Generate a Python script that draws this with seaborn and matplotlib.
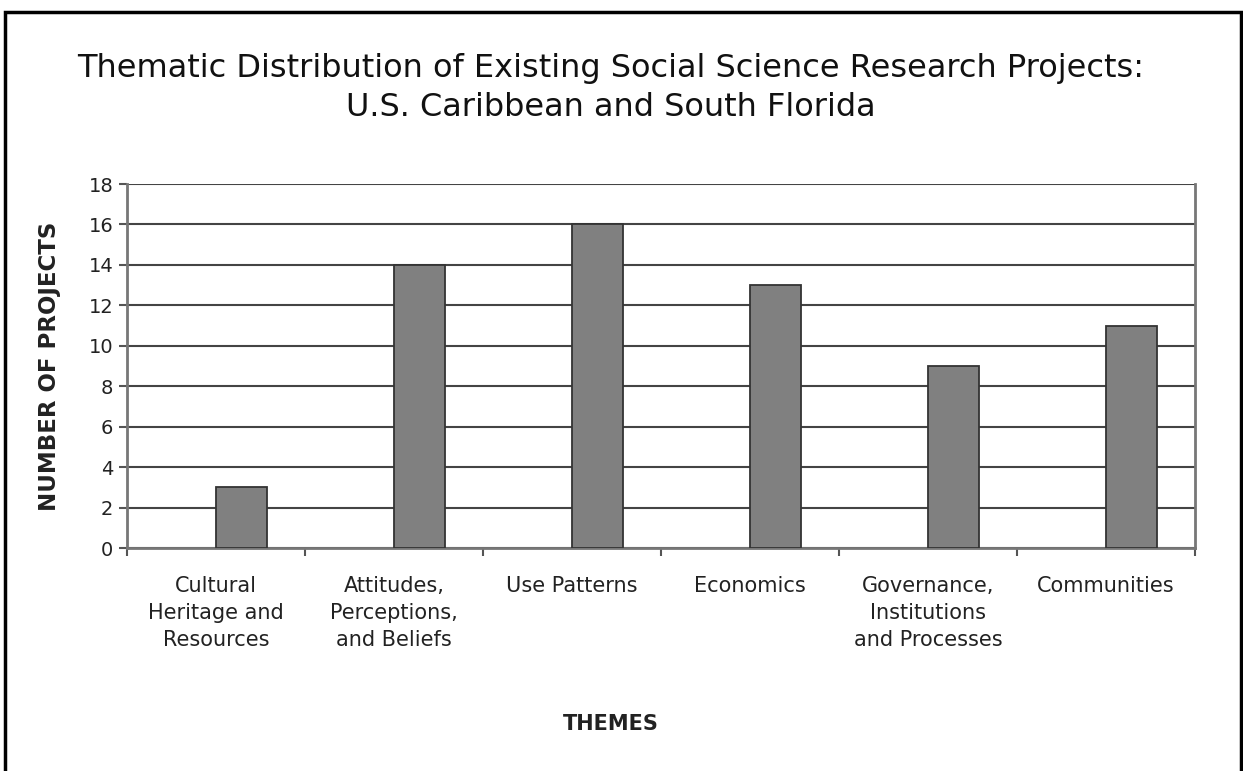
import numpy as np
import pandas as pd
import seaborn as sns
import matplotlib.pyplot as plt
from matplotlib.patches import Rectangle

# Data
themes = ["Cultural\nHeritage and\nResources",
          "Attitudes,\nPerceptions,\nand Beliefs",
          "Use Patterns",
          "Economics",
          "Governance,\nInstitutions\nand Processes",
          "Communities"]
projects = [3, 14, 16, 13, 9, 11]
y_ticks = np.arange(0, 19, 2)

# The original sheet had an empty first series, which pushes the bars right
df = pd.DataFrame({
    "Theme": themes * 2,
    "Series": ["empty"] * len(themes) + ["projects"] * len(themes),
    "Count": [np.nan] * len(themes) + projects,
})

sns.set_theme(style="white")
plt.rcParams["font.family"] = ["DejaVu Sans"]

fig = plt.figure(figsize=(12.43, 7.71), dpi=100)
ax = fig.add_axes([0.1022, 0.2892, 0.8592, 0.4721])

sns.barplot(data=df, x="Theme", y="Count", hue="Series", order=themes,
            hue_order=["empty", "projects"], palette=["#808080", "#808080"],
            width=0.574, dodge=True, edgecolor="#333333", linewidth=1.3,
            legend=False, zorder=3, ax=ax)

# Axes
ax.set_ylim(0, 18)
ax.set_xlim(-0.5, len(themes) - 0.5)
ax.set_yticks(y_ticks)
ax.yaxis.grid(True, color="#444444", linewidth=1.5, zorder=0)
ax.set_axisbelow(True)
for s in ["left", "right", "bottom"]:
    ax.spines[s].set_color("#777777")
    ax.spines[s].set_linewidth(2)
ax.spines["top"].set_visible(False)

ax.tick_params(axis="y", which="major", left=True, length=6, width=1.5,
               color="#555555", labelsize=14, pad=4, labelcolor="#222222")
ax.set_xticks(np.arange(-0.5, len(themes)), minor=True)
ax.tick_params(axis="x", which="minor", bottom=True, length=6, width=1.5,
               color="#555555")
ax.tick_params(axis="x", which="major", bottom=False, labelsize=15, pad=14,
               labelcolor="#222222")
for lab in ax.get_xticklabels():
    lab.set_linespacing(1.45)
    lab.set_va("top")

ax.set_xlabel("")
ax.set_ylabel("NUMBER OF PROJECTS", fontsize=16.5, fontweight="bold",
              color="#222222", labelpad=20)

fig.text(0.491, 0.061, "THEMES", fontsize=15, fontweight="bold",
         color="#222222", ha="center", va="center")

fig.text(0.491, 0.911,
         "Thematic Distribution of Existing Social Science Research Projects:",
         fontsize=23, ha="center", va="center", color="#111111")
fig.text(0.491, 0.860, "U.S. Caribbean and South Florida",
         fontsize=23, ha="center", va="center", color="#111111")

# Frame around the figure
fig.patches.append(Rectangle((0.004, -0.05), 0.994, 1.035,
                             transform=fig.transFigure, fill=False,
                             edgecolor="black", linewidth=2.5))

fig.savefig("out.png", dpi=100)
